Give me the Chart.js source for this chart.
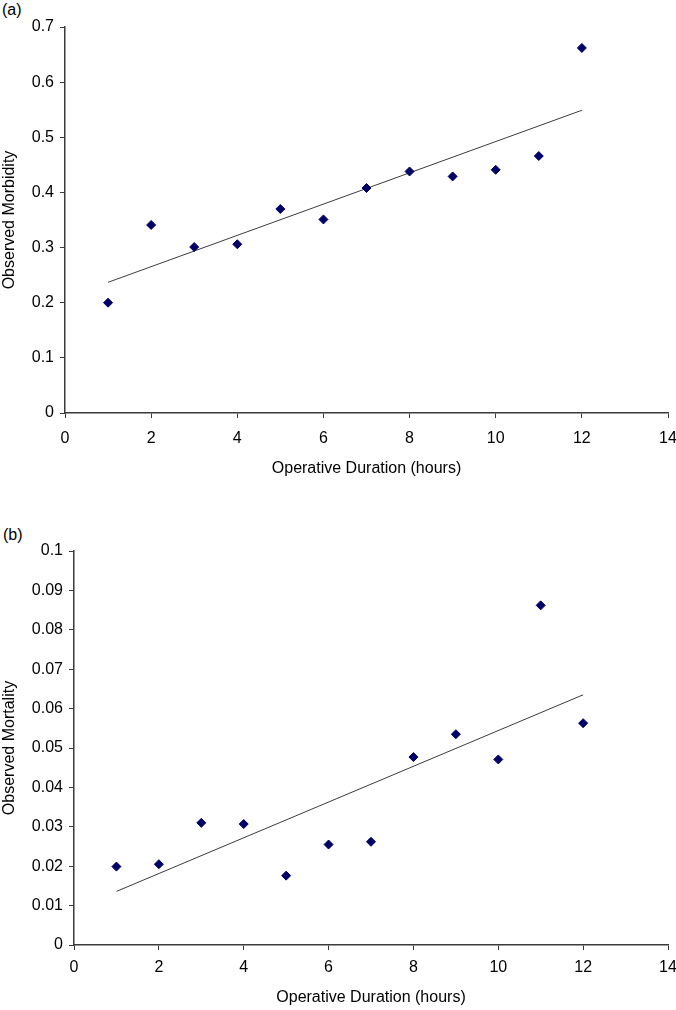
<!DOCTYPE html>
<html>
<head>
<meta charset="utf-8">
<script src="https://cdn.jsdelivr.net/npm/chart.js@4.4.1/dist/chart.umd.min.js"></script>
<style>
  body { margin: 0; background: #fff; width: 676px; height: 1010px; position: relative; overflow: hidden; }
  .panel { position: absolute; left: 0; width: 676px; }
  .tag { position: absolute; font: 16px "Liberation Sans", Arial, sans-serif; color: #000; line-height: 18px; }
</style>
</head>
<body>
<div class="tag" style="left:2px; top:1px;">(a)</div>
<div class="panel" style="top:0; height:490px;"><canvas id="chartA" width="676" height="490"></canvas></div>
<div class="tag" style="left:3px; top:526px;">(b)</div>
<div class="panel" style="top:490px; height:520px;"><canvas id="chartB" width="676" height="520"></canvas></div>
<script>
// values
var durations = [1, 2, 3, 4, 5, 6, 7, 8, 9, 10, 11, 12];
var morbidity = [0.200, 0.341, 0.301, 0.306, 0.370, 0.351, 0.408, 0.438, 0.429, 0.441, 0.466, 0.662];
var mortality = [0.0199, 0.0205, 0.0310, 0.0307, 0.0176, 0.0255, 0.0262, 0.0477, 0.0535, 0.0471, 0.0862, 0.0563];

// trend line ends as drawn
var trendX = [1, 12];
var morbidityTrend = [0.237, 0.549];
var mortalityTrend = [0.0136, 0.0635];

var xTicks = [0, 2, 4, 6, 8, 10, 12, 14];

const FONT = '"Liberation Sans", Arial, sans-serif';
const FONT_SIZE = 16;
const AXIS_COLOR = '#3a3a3a';
const MARKER_COLOR = '#000066';

function toPoints(xs, ys){
    return xs.map((x, i) => ({x: x, y: ys[i]}));
}

function makeChart(id, opts){
    const ctx = document.getElementById(id);
    return new Chart(ctx, {
        type: 'scatter',
        data: {
            datasets: [
                {
                    label: 'observed',
                    data: toPoints(durations, opts.values),
                    pointStyle: 'rectRot',
                    pointRadius: 4.5,
                    backgroundColor: MARKER_COLOR,
                    borderColor: MARKER_COLOR,
                    borderWidth: 1,
                    order: 1
                },
                {
                    type: 'line',
                    label: 'trend',
                    data: toPoints(trendX, opts.trend),
                    borderColor: '#3c3c3c',
                    borderWidth: 1,
                    pointRadius: 0,
                    fill: false,
                    order: 2
                }
            ]
        },
        options: {
            responsive: false,
            animation: false,
            events: [],
            layout: {
                padding: {top: opts.top, right: 0, left: 0, bottom: 0}
            },
            plugins: {
                legend: {display: false},
                tooltip: {enabled: false}
            },
            scales: {
                x: {
                    type: 'linear',
                    min: 0,
                    max: 14,
                    afterBuildTicks: (s) => { s.ticks = xTicks.map(v => ({value: v})); },
                    afterFit: (s) => {
                        s.height = opts.xHeight;
                        // keep the plot running out to x=668 like the original
                        s.paddingRight = 8;
                        s.paddingLeft = 0;
                    },
                    border: {display: true, color: AXIS_COLOR, width: 1.5},
                    grid: {drawOnChartArea: false, drawTicks: true, tickLength: 5, color: AXIS_COLOR},
                    ticks: {color: '#000', font: {family: FONT, size: FONT_SIZE}, padding: opts.xTickPad, maxRotation: 0},
                    title: {
                        display: true,
                        text: 'Operative Duration (hours)',
                        color: '#000',
                        font: {family: FONT, size: FONT_SIZE},
                        padding: {top: 4, bottom: opts.titlePad}
                    }
                },
                y: {
                    type: 'linear',
                    min: 0,
                    max: opts.yMax,
                    afterFit: (s) => { s.width = opts.yWidth; },
                    border: {display: true, color: AXIS_COLOR, width: 1.5},
                    grid: {drawOnChartArea: false, drawTicks: true, tickLength: 5, color: AXIS_COLOR},
                    ticks: {
                        stepSize: opts.yStep,
                        color: '#000',
                        font: {family: FONT, size: FONT_SIZE},
                        padding: 6,
                        callback: (v) => String(Number(v.toFixed(3)))
                    },
                    title: {
                        display: true,
                        text: opts.yTitle,
                        color: '#000',
                        font: {family: FONT, size: FONT_SIZE},
                        padding: {top: 0, bottom: 0}
                    }
                }
            }
        }
    });
}

var chartA = makeChart('chartA', {
    values: morbidity, trend: morbidityTrend, yMax: 0.7, yStep: 0.1,
    yTitle: 'Observed Morbidity', top: 27, yWidth: 65, xHeight: 77, xTickPad: 11, titlePad: 12
});
var chartB = makeChart('chartB', {
    values: mortality, trend: mortalityTrend, yMax: 0.1, yStep: 0.01,
    yTitle: 'Observed Mortality', top: 61, yWidth: 74, xHeight: 65, xTickPad: 8, titlePad: 3
});
</script>
</body>
</html>
